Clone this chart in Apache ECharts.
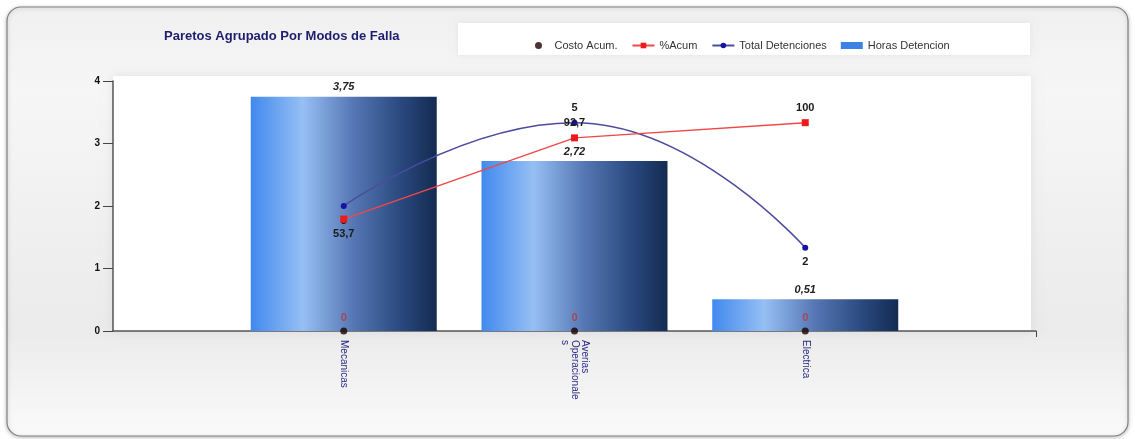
<!DOCTYPE html>
<html>
<head>
<meta charset="utf-8">
<script src="https://cdn.jsdelivr.net/npm/echarts@6/dist/echarts.min.js"></script>
<style>
  html, body { margin: 0; padding: 0; background: #ffffff; }
  #chart { width: 1135px; height: 439px; }
</style>
</head>
<body>
<div id="chart"></div>
<script>
// Failure modes (blank slots pad the axis on each side)
const categories = ['', 'Mecanicas', 'Averias Operacionales', 'Electrica', ''];
const tickLabels = ['', 'Mecanicas', 'Averias\nOperacionale\ns', 'Electrica', ''];
const horasDetencion = [null, 3.75, 2.72, 0.51, null];
const totalDetenciones = [null, 3, 5, 2, null];
const pctAcum = [null, 53.7, 92.7, 100, null];
const costoAcum = [null, 0, 0, 0, null];
const yTicks = [0, 1, 2, 3, 4];

const fmtComma = v => String(v).replace('.', ',');
const FONT = 'Liberation Sans, Arial, sans-serif';

const chart = echarts.init(document.getElementById('chart'), null, { renderer: 'canvas' });

const barGradient = {
  type: 'linear', x: 0, y: 0, x2: 1, y2: 0,
  colorStops: [
    { offset: 0, color: '#4189ee' },
    { offset: 0.28, color: '#96bff4' },
    { offset: 0.55, color: '#5677b4' },
    { offset: 0.8, color: '#2a4a80' },
    { offset: 1, color: '#142b52' }
  ]
};

const option = {
  animation: false,
  graphic: [
    { // outer rounded frame
      type: 'rect', z: -10, silent: true,
      shape: { x: 7, y: 7, width: 1121, height: 429, r: 14 },
      style: {
        fill: { type: 'linear', x: 0, y: 0, x2: 0, y2: 1,
          colorStops: [{ offset: 0, color: '#f0f0f0' }, { offset: 0.2, color: '#f6f6f6' },
                       { offset: 0.75, color: '#ebebeb' }, { offset: 1, color: '#fafafa' }] },
        stroke: '#808080', lineWidth: 1.2,
        shadowBlur: 4, shadowColor: 'rgba(0,0,0,0.25)', shadowOffsetY: 1
      }
    },
    { // plot panel
      type: 'rect', z: -9, silent: true,
      shape: { x: 113, y: 76, width: 918, height: 255 },
      style: { fill: '#ffffff', shadowBlur: 10, shadowColor: 'rgba(0,0,0,0.08)' }
    },
    { // legend panel
      type: 'rect', z: -9, silent: true,
      shape: { x: 458, y: 23, width: 572, height: 32 },
      style: { fill: '#ffffff', shadowBlur: 6, shadowColor: 'rgba(0,0,0,0.06)' }
    }
  ],
  title: {
    text: 'Paretos Agrupado Por Modos de Falla',
    left: 159, top: 25,
    textStyle: { fontFamily: FONT, fontSize: 13, fontWeight: 'bold', color: '#1d1d6e' }
  },
  legend: {
    left: 530, top: 35,
    itemGap: 14, itemWidth: 22, itemHeight: 7,
    textStyle: { fontFamily: FONT, fontSize: 11, color: '#333' },
    data: [
      { name: 'Costo Acum.', icon: 'circle', itemStyle: { color: '#200000' } },
      { name: '%Acum' },
      { name: 'Total Detenciones' },
      { name: 'Horas Detencion', icon: 'rect', itemStyle: { color: '#3d80e6' } }
    ]
  },
  grid: { left: 113, right: 99, top: 81, bottom: 108 },
  xAxis: {
    type: 'category',
    data: categories,
    boundaryGap: false,
    axisLine: { lineStyle: { color: '#555', width: 1.5 } },
    axisTick: { show: true, length: 6, interval: i => i === categories.length - 1, lineStyle: { color: '#444' } },
    axisLabel: {
      rotate: -90, margin: 9, interval: 0,
      fontFamily: FONT, fontSize: 10, color: '#2a2a86', lineHeight: 10,
      formatter: (v, i) => tickLabels[i]
    },
    splitLine: { show: false }
  },
  yAxis: [
    {
      type: 'value', min: yTicks[0], max: yTicks[yTicks.length - 1], interval: 1,
      axisLine: { show: true, lineStyle: { color: '#555', width: 1.5 } },
      axisTick: { show: true, length: 10, lineStyle: { color: '#444' } },
      axisLabel: { fontFamily: FONT, fontSize: 10, fontWeight: 'bold', color: '#111', margin: 13 },
      splitLine: { show: false }
    },
    { type: 'value', min: 0, max: 6, show: false, splitLine: { show: false } },
    { type: 'value', min: 0, max: 120, show: false, splitLine: { show: false } }
  ],
  series: [
    {
      name: 'Horas Detencion', type: 'bar', data: horasDetencion,
      barWidth: 186, z: 2,
      itemStyle: { color: barGradient },
      label: {
        show: true, position: 'top', distance: 4,
        formatter: p => fmtComma(p.value),
        fontFamily: FONT, fontSize: 11, fontStyle: 'italic', fontWeight: 'bold', color: '#222'
      }
    },
    {
      name: '%Acum', type: 'line', yAxisIndex: 2, data: pctAcum.map((v, i) => v === null ? null : {
        value: v, label: { position: i === 1 ? 'bottom' : 'top' }
      }),
      z: 4,
      symbol: 'rect', symbolSize: 7,
      lineStyle: { color: '#f04848', width: 1.5 },
      itemStyle: { color: '#ee1a1a' },
      label: {
        show: true, distance: 6,
        formatter: p => fmtComma(p.value),
        fontFamily: FONT, fontSize: 11, fontWeight: 'bold', color: '#1a1a1a'
      }
    },
    {
      name: 'Total Detenciones', type: 'line', yAxisIndex: 1, smooth: 0.5,
      data: totalDetenciones.map((v, i) => v === null ? null : {
        value: v, label: { position: i === 2 ? 'top' : 'bottom' }
      }),
      z: 3,
      symbol: 'circle', symbolSize: 6,
      lineStyle: { color: '#4c4c9e', width: 1.5 },
      itemStyle: { color: '#1414a0' },
      label: {
        show: true, distance: 6,
        fontFamily: FONT, fontSize: 11, fontWeight: 'bold', color: '#1a1a1a'
      }
    },
    {
      name: 'Costo Acum.', type: 'scatter', data: costoAcum,
      z: 5, symbol: 'circle', symbolSize: 7,
      itemStyle: { color: '#1a0000' },
      label: {
        show: true, position: 'top', distance: 4,
        fontFamily: FONT, fontSize: 11, fontWeight: 'bold', color: '#b23a3a'
      }
    }
  ]
};

chart.setOption(option);
</script>
</body>
</html>
